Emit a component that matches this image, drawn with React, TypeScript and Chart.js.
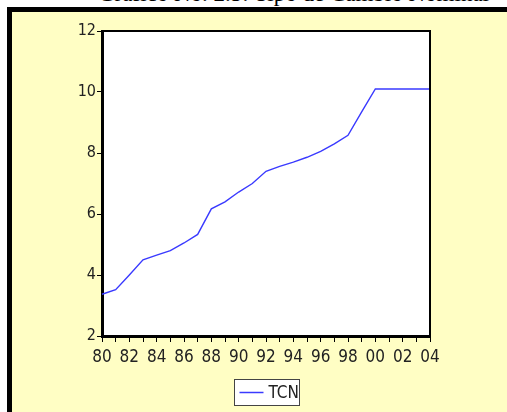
import React, { useEffect, useRef } from "react";
import { Chart, registerables } from "chart.js";

Chart.register(...registerables);

const titleText = "Gráfico No. 2.5: Tipo de Cambio Nominal";
const seriesName = "TCN";
const years = ["80","81","82","83","84","85","86","87","88","89","90","91","92","93","94","95","96","97","98","99","00","01","02","03","04"];
const tcnValues = [3.37, 3.52, 4.0, 4.5, 4.65, 4.8, 5.05, 5.33, 6.17, 6.4, 6.72, 7.0, 7.4, 7.56, 7.7, 7.86, 8.05, 8.3, 8.58, 9.35, 10.1, 10.1, 10.1, 10.1, 10.1];
const yMin = 2;
const yMax = 12;
const yStep = 2;

const FONT = "'Liberation Sans Narrow', 'DejaVu Sans Condensed', 'Arial Narrow', sans-serif";
const YELLOW = "#FFFEC4";
const LINE = "#3a3aff";

const framePlugin = {
  id: "framePlugin",
  beforeDraw(chart: any) {
    const { ctx, chartArea: a } = chart;
    ctx.save();
    ctx.fillStyle = YELLOW;
    ctx.fillRect(0, 0, chart.width, chart.height);
    ctx.fillStyle = "#ffffff";
    ctx.fillRect(a.left, a.top, a.right - a.left, a.bottom - a.top);
    ctx.restore();
  },
  afterDraw(chart: any) {
    const { ctx, chartArea: a } = chart;
    ctx.save();
    ctx.strokeStyle = "#000";
    ctx.lineWidth = 2;
    ctx.beginPath();
    ctx.moveTo(a.left, a.top);
    ctx.lineTo(a.right, a.top);
    ctx.lineTo(a.right, a.bottom);
    ctx.stroke();
    // legend
    const ds = chart.data.datasets[0];
    const w = 65, h = 26;
    const cx = (a.left + a.right) / 2;
    const x0 = Math.round(cx - w / 2) + 0.5;
    const y0 = Math.round(a.bottom + 43) + 0.5;
    ctx.fillStyle = "#ffffff";
    ctx.fillRect(x0, y0, w, h);
    ctx.strokeStyle = "#444";
    ctx.lineWidth = 1;
    ctx.strokeRect(x0, y0, w, h);
    ctx.strokeStyle = ds.borderColor;
    ctx.lineWidth = 1.5;
    ctx.beginPath();
    ctx.moveTo(x0 + 5, y0 + h / 2);
    ctx.lineTo(x0 + 29, y0 + h / 2);
    ctx.stroke();
    ctx.fillStyle = "#222";
    ctx.font = `17px ${FONT}`;
    ctx.textBaseline = "middle";
    ctx.textAlign = "left";
    ctx.fillText(ds.label, x0 + 34, y0 + h / 2 + 1);
    ctx.restore();
  },
};

export default function App() {
  const ref = useRef<HTMLCanvasElement | null>(null);
  useEffect(() => {
    if (!ref.current) return;
    const chart = new Chart(ref.current, {
      type: "line",
      data: {
        labels: years,
        datasets: [
          {
            label: seriesName,
            data: tcnValues,
            borderColor: LINE,
            borderWidth: 1.4,
            pointRadius: 0,
            tension: 0,
            fill: false,
          },
        ],
      },
      options: {
        animation: false,
        responsive: false,
        events: [],
        layout: { padding: { left: 50, right: 77, top: 19, bottom: 46 } },
        plugins: { legend: { display: false }, tooltip: { enabled: false }, title: { display: false } },
        scales: {
          x: {
            type: "category",
            offset: false,
            grid: { display: true, drawOnChartArea: false, drawTicks: true, tickLength: 6, color: "#000", lineWidth: 1 },
            border: { display: true, color: "#000", width: 3 },
            ticks: {
              autoSkip: false,
              maxRotation: 0,
              minRotation: 0,
              padding: 5,
              color: "#222",
              font: { family: FONT, size: 17 },
              callback: (_v: any, i: number) => (i % 2 === 0 ? years[i] : ""),
            },
            afterFit: (s: any) => { s.height = 30; },
          },
          y: {
            min: yMin,
            max: yMax,
            grid: { display: true, drawOnChartArea: false, drawTicks: true, tickLength: 5, color: "#000", lineWidth: 1 },
            border: { display: true, color: "#000", width: 3 },
            ticks: { stepSize: yStep, padding: 1, color: "#222", font: { family: FONT, size: 16 } },
            afterFit: (s: any) => { s.width = 40; },
          },
        },
      },
      plugins: [framePlugin],
    });
    return () => chart.destroy();
  }, []);

  return (
    <div style={{ position: "absolute", left: 0, top: 0, width: 507, height: 412, overflow: "hidden", background: "#fff" }}>
      <div
        style={{
          position: "absolute",
          left: 98,
          top: -18,
          whiteSpace: "nowrap",
          fontFamily: "'Liberation Serif', 'Times New Roman', serif",
          fontSize: 23,
          lineHeight: "23px",
          color: "#000",
        }}
      >
        {titleText}
      </div>
      <div
        style={{
          position: "absolute",
          left: 7,
          top: 7,
          width: 520,
          height: 430,
          border: "5px solid #000",
          background: YELLOW,
          boxSizing: "border-box",
        }}
      />
      <canvas ref={ref} width={495} height={400} style={{ position: "absolute", left: 12, top: 12, width: 495, height: 400 }} />
    </div>
  );
}
